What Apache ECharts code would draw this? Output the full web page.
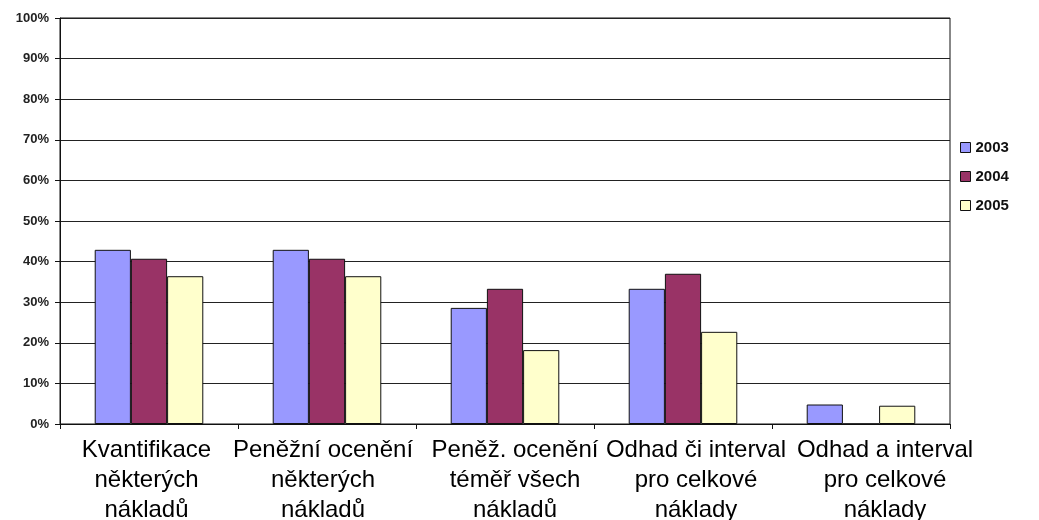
<!DOCTYPE html>
<html>
<head>
<meta charset="utf-8">
<script src="https://cdn.jsdelivr.net/npm/echarts@6/dist/echarts.min.js"></script>
<style>
html,body{margin:0;padding:0;background:#fff;}
#c{width:1039px;height:520px;}
</style>
</head>
<body>
<div id="c"></div>
<script>
const categories = [
  "Kvantifikace\nněkterých\nnákladů",
  "Peněžní ocenění\nněkterých\nnákladů",
  "Peněž. ocenění\ntéměř všech\nnákladů",
  "Odhad či interval\npro celkové\nnáklady",
  "Odhad a interval\npro celkové\nnáklady"
];
const years = ["2003", "2004", "2005"];
const values2003 = [42.9, 42.9, 28.6, 33.3, 4.8];
const values2004 = [40.7, 40.7, 33.3, 37.0, 0];
const values2005 = [36.4, 36.4, 18.2, 22.7, 4.5];
const yTicks = [0, 10, 20, 30, 40, 50, 60, 70, 80, 90, 100];

const colors = ["#9999FF", "#993366", "#FFFFCC"];
const seriesData = [values2003, values2004, values2005];
// label nudges (Excel spreads overlapping labels apart)
const labelPad = [[0, 5, 0, 0], [0, 8, 0, 0], [0, 0, 0, 20], [0, 0, 0, 26], [0, 0, 0, 48]];

const chart = echarts.init(document.getElementById('c'), null, {renderer: 'canvas'});
chart.setOption({
  animation: false,
  backgroundColor: '#ffffff',
  grid: {left: 60, right: 89, top: 18, bottom: 96, containLabel: false,
         outerBoundsMode: 'none',
         show: true, borderColor: '#111', borderWidth: 1},
  legend: {
    orient: 'vertical', left: 955, top: 135,
    itemWidth: 10, itemHeight: 10, itemGap: 14, itemStyle: {borderColor: '#111', borderWidth: 1},
    icon: 'rect',
    textStyle: {fontFamily: 'Liberation Sans, Arial', fontWeight: 'bold', fontSize: 15, color: '#111'},
    data: years
  },
  xAxis: {
    type: 'category',
    data: categories.map(function (c, i) {
      return {value: c, textStyle: {padding: labelPad[i]}};
    }),
    axisLine: {lineStyle: {color: '#111', width: 1}},
    axisTick: {show: true, length: 5, lineStyle: {color: '#111'}},
    axisLabel: {fontFamily: 'Liberation Sans, Arial', fontSize: 24, color: '#000', lineHeight: 30, margin: 11, interval: 0}
  },
  yAxis: {
    type: 'value', min: 0, max: 100, interval: 10,
    axisLine: {show: true, lineStyle: {color: '#111', width: 1}},
    axisTick: {show: true, length: 5, lineStyle: {color: '#111'}},
    splitLine: {lineStyle: {color: '#222', width: 1}},
    axisLabel: {fontFamily: 'Liberation Sans, Arial', fontSize: 13, fontWeight: 'bold', color: '#222', margin: 11,
      formatter: function (v) { return yTicks.indexOf(v) >= 0 ? v + '%' : ''; }}
  },
  series: years.map(function (y, i) {
    return {
      name: y, type: 'bar', data: seriesData[i],
      barGap: '0%', barCategoryGap: '39%',
      itemStyle: {color: colors[i], borderColor: '#111', borderWidth: 1}
    };
  })
});
</script>
</body>
</html>
